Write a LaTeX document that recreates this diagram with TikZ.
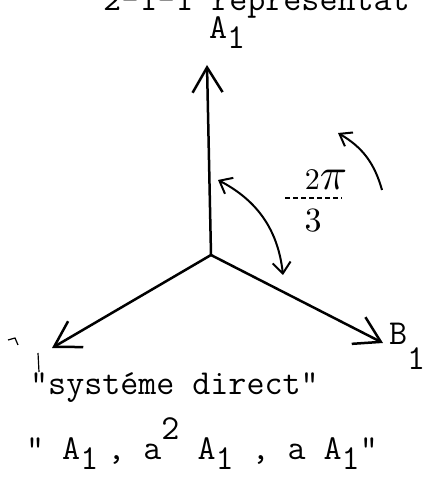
\documentclass[tikz,border=0pt]{standalone}
\usetikzlibrary{arrows.meta}
\newcommand{\hsub}[1]{\raisebox{-.28em}{#1}}
\newcommand{\hsup}[1]{\raisebox{.6em}{#1}}
\tikzset{
  machine/.style={font=\fontsize{35}{40}\selectfont\ttfamily, inner sep=0pt},
  manuscrit/.style={inner sep=0pt},
  axe/.style={line width=2.5pt, -{Straight Barb[length=25pt,width=30pt]}},
  fleche/.style={line width=2pt}
}
\begin{document}
\begin{tikzpicture}[x=1pt, y=1pt]
    \useasboundingbox (0,0) rectangle (424,479);
    % titre coupé en haut
    \node[machine, anchor=base west] (titre) at (103,468) {2-1-1 représentat};

    % les trois vecteurs
    \coordinate (O) at (211,224);
    \coordinate (A1) at (207,414);
    \coordinate (B1) at (383,136);
    \coordinate (C1) at (52,131);
    \draw[axe] (O) -- (A1);
    \draw[axe] (O) -- (B1);
    \draw[axe] (O) -- (C1);
    \node[machine, anchor=base west] (labelA) at (209,440) {A\hsub{1}};
    \node[machine, anchor=base west] (labelB) at (389,134) {B\raisebox{-.7em}{1}};

    % restes de l'étiquette effacée
    \draw[line width=1.2pt] (8,139) -- (15,141) -- (18,134);
    \draw[line width=1.2pt] (38,126) -- (39,107);

    % angle 2pi/3
    \coordinate (arcA) at (218,299);
    \coordinate (arcB) at (283,204);
    \draw[fleche, {Straight Barb[length=11pt,width=18pt]}-{Straight Barb[length=11pt,width=18pt]}] (arcA) to[bend left=28] (arcB);
    \coordinate (rotA) at (382,289);
    \coordinate (rotB) at (338,346);
    \draw[fleche, -{Straight Barb[length=11pt,width=16pt]}] (rotA) to[bend right=22] (rotB);
    \node[manuscrit] (deuxpi) at (326,299) {\scalebox{3}{2}\scalebox{4.5}{$\pi$}};
    \node[manuscrit] (trois) at (313,258) {\scalebox{3.4}{3}};
    \coordinate (barreG) at (285,281);
    \coordinate (barreD) at (342,281);
    \draw[line width=1.5pt, dash pattern=on 5pt off 3pt] (barreG) -- (barreD);

    % légende
    \node[machine, anchor=base west] (ligne1) at (30,84) {"systéme direct"};
    \node[machine, anchor=base west] (ligne2) at (26,19) {"\ A\hsub{1}\kern.26em, a\hsup{2} A\hsub{1} , a A\hsub{1}"};
\end{tikzpicture}
\end{document}
